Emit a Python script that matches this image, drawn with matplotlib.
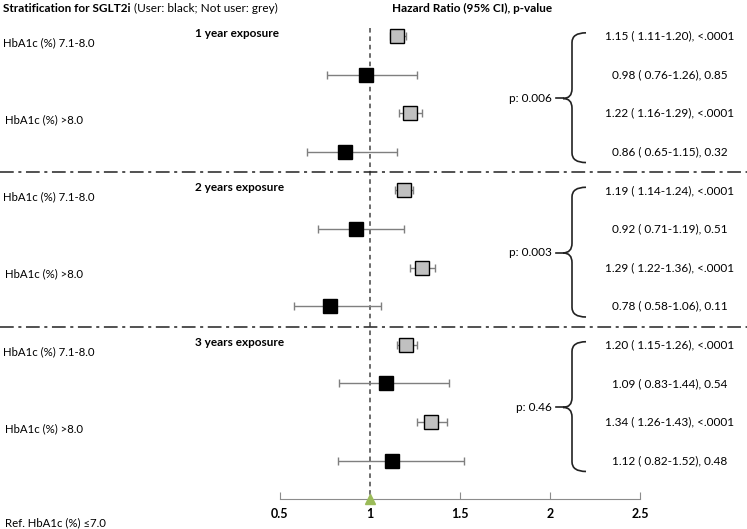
import matplotlib.pyplot as plt
from matplotlib.path import Path
from matplotlib.patches import PathPatch

plt.rcParams['font.family'] = ['Lato', 'DejaVu Sans']

# data
groups = ['1 year exposure', '2 years exposure', '3 years exposure']
strata = ['HbA1c (%) 7.1-8.0', 'HbA1c (%) >8.0']
group_p = ['0.006', '0.003', '0.46']

# not users (grey), per group: [7.1-8.0, >8.0]
nonuser_hr = [[1.15, 1.22], [1.19, 1.29], [1.20, 1.34]]
nonuser_lo = [[1.11, 1.16], [1.14, 1.22], [1.15, 1.26]]
nonuser_hi = [[1.20, 1.29], [1.24, 1.36], [1.26, 1.43]]
nonuser_p = [['<.0001', '<.0001'], ['<.0001', '<.0001'], ['<.0001', '<.0001']]

# users (black)
user_hr = [[0.98, 0.86], [0.92, 0.78], [1.09, 1.12]]
user_lo = [[0.76, 0.65], [0.71, 0.58], [0.83, 0.82]]
user_hi = [[1.26, 1.15], [1.19, 1.06], [1.44, 1.52]]
user_p = [['0.85', '0.32'], ['0.51', '0.11'], ['0.54', '0.48']]

xticks = [0.5, 1, 1.5, 2, 2.5]
xticklabels = ['0.5', '1', '1.5', '2', '2.5']

fig = plt.figure(figsize=(7.47, 5.29), dpi=100)
ax = fig.add_axes([0, 0, 1, 1])


def px(p):
    # pixel column -> data x (x=1 at 370 px, 180 px per unit)
    return 1 + (p - 370) / 180.0


ax.set_xlim(px(0), px(747))
ax.set_ylim(12.77, -0.93)
ax.patch.set_alpha(0)

for s in ['left', 'right', 'top']:
    ax.spines[s].set_visible(False)
ax.spines['bottom'].set_position(('data', 12))
ax.spines['bottom'].set_bounds(0.5, 2.5)
ax.spines['bottom'].set_color('#8c8c8c')
ax.set_xticks(xticks)
ax.set_xticklabels(xticklabels, fontweight='bold', fontsize=9)
ax.tick_params(axis='x', direction='in', length=5, color='#8c8c8c', pad=6)
ax.set_yticks([])

# reference line at HR = 1
ax.plot([1, 1], [-0.2, 12], color='#444444', lw=1.1, ls=(0, (3, 2.5)), zorder=1)
ax.plot([1], [12], marker='^', color='#9bbb59', ms=7, clip_on=False, zorder=5)

# separators between exposure periods
for yy in [3.52, 7.54]:
    ax.plot([px(0), px(747)], [yy, yy], color='#222222', lw=1.1,
            ls=(0, (9, 3, 2, 3)), zorder=1)

# header
t1 = ax.text(px(3), -0.7, 'Stratification for SGLT2i', fontweight='bold',
             fontsize=8.5, va='center', ha='left')
ax.annotate(' (User: black; Not user: grey)', xy=(1, 0), xycoords=t1,
            va='bottom', ha='left', fontsize=8.5)
ax.text(px(472), -0.7, 'Hazard Ratio (95% CI), p-value', fontweight='bold',
        fontsize=8.5, va='center', ha='center')
ax.text(px(5), 12.6, 'Ref. HbA1c (%) ≤7.0', fontsize=8.2, va='center', ha='left')

for g in range(len(groups)):
    base = 4 * g
    ax.text(px(195), base - 0.07, groups[g], fontweight='bold', fontsize=8.5,
            va='center', ha='left')
    for s in range(len(strata)):
        ax.text(px(3 + 2 * s), base + 2 * s + 0.17, strata[s], fontsize=8.2,
                va='center', ha='left')
        rows = [
            (nonuser_hr[g][s], nonuser_lo[g][s], nonuser_hi[g][s], nonuser_p[g][s],
             '#c0c0c0', 'black', 10),
            (user_hr[g][s], user_lo[g][s], user_hi[g][s], user_p[g][s],
             'black', 'black', 9.5),
        ]
        for u, (hr, lo, hi, p, fc, ec, ms) in enumerate(rows):
            y = base + 2 * s + u
            ax.errorbar([hr], [y], xerr=[[hr - lo], [hi - hr]], fmt='none',
                        ecolor='#7f7f7f', elinewidth=1, capsize=3, capthick=1,
                        zorder=2)
            ax.plot([hr], [y], marker='s', ms=ms, mfc=fc, mec=ec, mew=1,
                    ls='none', zorder=3)
            ax.text(px(670), y, '%.2f ( %.2f-%.2f), %s' % (hr, lo, hi, p),
                    fontsize=8.5, va='center', ha='center')

    # curly brace grouping the four rows
    top, bot, mid = base - 0.08, base + 3.28, base + 1.62
    xv, xh, xt = px(572), px(586), px(563)
    r = 0.25
    verts = [(xh, top), (xv, top), (xv, top + r),
             (xv, mid - r), (xv, mid), (xt, mid),
             (xv, mid), (xv, mid + r),
             (xv, bot - r), (xv, bot), (xh, bot)]
    codes = [Path.MOVETO, Path.CURVE3, Path.CURVE3,
             Path.LINETO, Path.CURVE3, Path.CURVE3,
             Path.CURVE3, Path.CURVE3,
             Path.LINETO, Path.CURVE3, Path.CURVE3]
    ax.add_patch(PathPatch(Path(verts, codes), fc='none', ec='#222222', lw=1.2))
    ax.plot([px(556), xt], [mid, mid], color='#222222', lw=1.2)
    ax.text(px(552), mid, 'p: ' + group_p[g], fontsize=8.5, va='center', ha='right')

fig.savefig('out.png', dpi=100)
